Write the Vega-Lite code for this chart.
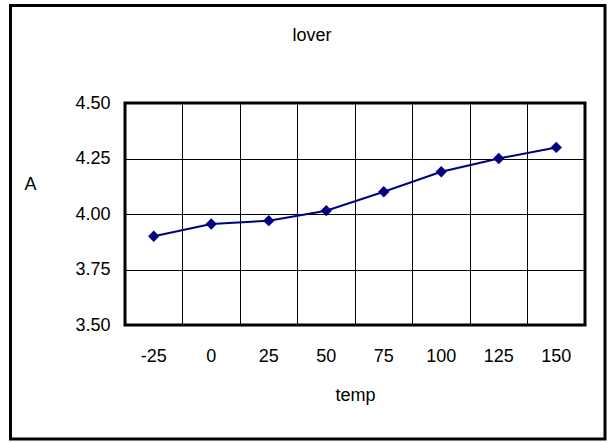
{
  "$schema": "https://vega.github.io/schema/vega-lite/v6.json",
  "width": 460,
  "height": 222,
  "autosize": {"type": "none"},
  "padding": {"left": 125, "top": 103, "right": 24, "bottom": 118},
  "background": "white",
  "title": {
    "text": "lover",
    "anchor": "middle",
    "dx": -43,
    "offset": -50,
    "baseline": "middle",
    "fontSize": 18,
    "font": "Liberation Sans",
    "fontWeight": "normal",
    "color": "black"
  },
  "config": {
    "view": {"stroke": "black", "strokeWidth": 3},
    "axis": {
      "labelFont": "Liberation Sans",
      "labelFontSize": 18,
      "labelColor": "black",
      "titleFont": "Liberation Sans",
      "titleFontSize": 18,
      "titleFontWeight": "normal",
      "titleColor": "black",
      "grid": true,
      "gridColor": "black",
      "gridOpacity": 1,
      "gridWidth": 1,
      "ticks": false,
      "domain": false
    }
  },
  "data": {
    "values": [
      {"temp": -25, "A": 3.90},
      {"temp": 0, "A": 3.955},
      {"temp": 25, "A": 3.97},
      {"temp": 50, "A": 4.015},
      {"temp": 75, "A": 4.10},
      {"temp": 100, "A": 4.19},
      {"temp": 125, "A": 4.25},
      {"temp": 150, "A": 4.30}
    ]
  },
  "encoding": {
    "x": {
      "field": "temp",
      "type": "ordinal",
      "bandPosition": 0.5,
      "scale": {"type": "band", "paddingInner": 0, "paddingOuter": 0},
      "axis": {
        "title": "temp",
        "bandPosition": 0,
        "labelAngle": 0,
        "labelPadding": 22,
        "titleY": 70,
        "titleBaseline": "middle"
      }
    },
    "y": {
      "field": "A",
      "type": "quantitative",
      "scale": {"domain": [3.5, 4.5], "nice": false, "zero": false},
      "axis": {
        "title": "A",
        "titleAngle": 0,
        "titleX": -95,
        "titleY": 81,
        "titleAlign": "center",
        "titleBaseline": "middle",
        "values": [3.5, 3.75, 4, 4.25, 4.5],
        "format": ".2f",
        "labelPadding": 15
      }
    }
  },
  "layer": [
    {
      "data": {"values": [{"frame": 1}]},
      "mark": {"type": "rect", "fill": null, "fillOpacity": 0, "stroke": "black", "strokeWidth": 3, "clip": false},
      "encoding": {
        "x": {"value": -114.5},
        "x2": {"value": 480},
        "y": {"value": -97.5},
        "y2": {"value": 336}
      }
    },
    {
      "mark": {"type": "line", "color": "#000080", "strokeWidth": 2}
    },
    {
      "mark": {"type": "point", "shape": "diamond", "filled": true, "color": "#000080", "size": 130, "opacity": 1}
    }
  ]
}
